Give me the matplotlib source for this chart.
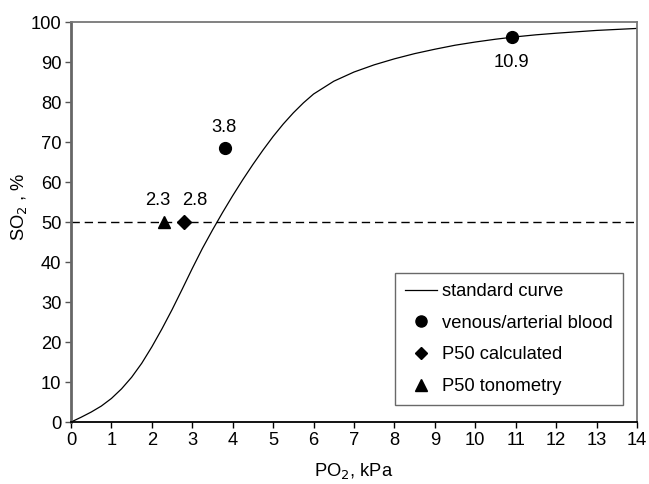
import matplotlib
matplotlib.use('Agg')
import matplotlib.pyplot as plt
from matplotlib.lines import Line2D

plt.rcParams['font.family'] = ['Liberation Sans', 'DejaVu Sans']

# standard dissociation curve
po2_curve = [0, 0.25, 0.5, 0.75, 1, 1.25, 1.5, 1.75, 2, 2.25, 2.5, 2.75,
             3, 3.25, 3.5, 3.75, 4, 4.25, 4.5, 4.75, 5, 5.25, 5.5, 5.75, 6, 6.5,
             7, 7.5, 8, 8.5, 9, 9.5, 10, 10.5, 11, 11.5, 12, 13, 14]
so2_curve = [0, 1.2, 2.5, 4.0, 5.9, 8.3, 11.2, 14.7, 18.8, 23.3, 28.1, 33.2,
             38.4, 43.4, 48.0, 52.4, 56.6, 60.6, 64.4, 68.0, 71.4, 74.5, 77.3, 79.8, 82.0, 85.2,
             87.5, 89.3, 90.8, 92.1, 93.2, 94.2, 95.0, 95.7, 96.3, 96.8, 97.2, 97.9, 98.4]

# measured points
blood_po2 = [3.8, 10.9]
blood_so2 = [68.5, 96.3]
calc_po2 = [2.8]
calc_so2 = [50]
tono_po2 = [2.3]
tono_so2 = [50]

x_ticks = list(range(0, 15))
y_ticks = list(range(0, 101, 10))

fig = plt.figure(figsize=(6.49, 4.84), dpi=100)
ax = fig.add_axes([0.1094, 0.128, 0.8721, 0.8265])

ax.plot(po2_curve, so2_curve, color='black', lw=0.9)
ax.axhline(50, color='black', lw=1.0, dashes=(6, 3.5))

ax.plot(blood_po2, blood_so2, 'o', color='black', ms=8.5, ls='none')
ax.plot(calc_po2, calc_so2, 'D', color='black', ms=7, ls='none')
ax.plot(tono_po2, tono_so2, '^', color='black', ms=9, ls='none')

fs = 13.2


def label(x, y, txt, dx, dy):
    ax.annotate(txt, (x, y), xytext=(dx, dy), textcoords='offset points',
                ha='center', va='baseline', fontsize=fs)


label(blood_po2[0], blood_so2[0], '3.8', -0.7, 11.5)
label(blood_po2[1], blood_so2[1], '10.9', 0, -21.5)
label(calc_po2[0], calc_so2[0], '2.8', 7.6, 12.2)
label(tono_po2[0], tono_so2[0], '2.3', -4.7, 12.2)

ax.set_xlim(0, 14)
ax.set_ylim(0, 100)
ax.set_xticks(x_ticks)
ax.set_yticks(y_ticks)
ax.tick_params(axis='both', direction='out', length=4, width=1, labelsize=fs, pad=3)
ax.tick_params(axis='y', color='#555555')

for side in ['top', 'right']:
    ax.spines[side].set_color('#777777')
    ax.spines[side].set_linewidth(1.3)
ax.spines['left'].set_color('#666666')
ax.spines['left'].set_linewidth(2)
ax.spines['bottom'].set_color('black')
ax.spines['bottom'].set_linewidth(1.3)

ax.set_xlabel('PO$_2$, kPa', fontsize=fs, labelpad=9)
ax.set_ylabel('SO$_2$ , %', fontsize=fs)
ax.yaxis.set_label_coords(-0.075, 0.5375)

handles = [
    Line2D([], [], color='black', lw=0.9),
    Line2D([], [], marker='o', color='black', ls='none', ms=8),
    Line2D([], [], marker='D', color='black', ls='none', ms=6),
    Line2D([], [], marker='^', color='black', ls='none', ms=8),
]
labels = ['standard curve', 'venous/arterial blood', 'P50 calculated', 'P50 tonometry']
leg = ax.legend(handles, labels, loc='lower right', bbox_to_anchor=(0.975, 0.042),
                fontsize=fs, frameon=True, fancybox=False, borderpad=0.55,
                labelspacing=0.8, handlelength=1.7, handletextpad=0.3,
                borderaxespad=0)
leg.get_frame().set_edgecolor('#444444')
leg.get_frame().set_linewidth(1.0)

fig.savefig('out.png', dpi=100)
